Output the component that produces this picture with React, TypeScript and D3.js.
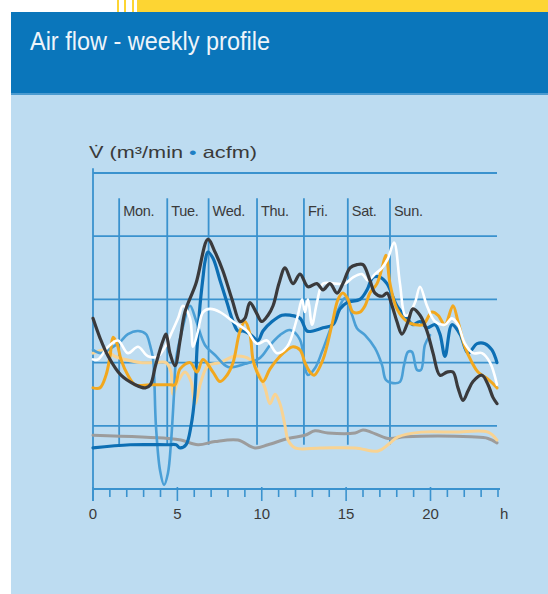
import React from "react";
import * as d3 from "d3";

// ---- data (hours, relative air flow 0-100) ----
const HOUR_TICKS = [0, 5, 10, 15, 20];
const ALL_HOURS = d3.range(0, 25);
const GRID_VALUES = [20, 40, 60, 80, 100];
const DAYS = ["Mon.", "Tue.", "Wed.", "Thu.", "Fri.", "Sat.", "Sun."];
const DAY_HOURS = [1.55, 4.4, 6.85, 9.72, 12.5, 15.1, 17.6];

const darkGray: [number, number][] = [
  [0, 54], [0.4, 48], [0.9, 42], [1.66, 36], [2.5, 33], [3.1, 32], [3.4, 33], [3.7, 39], [4.15, 47], [4.33, 49],
  [4.56, 43], [4.86, 39], [5.16, 47], [5.45, 56], [6.1, 65], [6.81, 79], [7.23, 75], [7.7, 69], [8.24, 60], [8.71, 53],
  [9.0, 54], [9.3, 59], [9.66, 56], [10.0, 53], [10.37, 55], [10.67, 58], [11.02, 65], [11.38, 70], [11.85, 65], [12.27, 68],
  [12.74, 64], [13.27, 65], [13.63, 63], [14.04, 65], [14.46, 62], [14.81, 65], [15.23, 70], [15.64, 71], [16.0, 71], [16.41, 66],
  [16.71, 62], [17.13, 61], [17.42, 62], [17.72, 58], [18.01, 53], [18.31, 49], [18.67, 53], [18.96, 57], [19.38, 55], [19.79, 50],
  [20.15, 43], [20.56, 36], [20.98, 37], [21.33, 37], [21.63, 32], [21.93, 28], [22.22, 31], [22.52, 34], [23.05, 36], [23.41, 33],
  [23.7, 29], [23.94, 27],
];

const darkBlue: [number, number][] = [
  [0, 13], [2.2, 14], [4.44, 14], [4.92, 14], [5.16, 13], [5.51, 14], [5.81, 20], [6.04, 30], [6.16, 44], [6.34, 58],
  [6.52, 67], [6.64, 72], [6.81, 75], [7.11, 73], [7.53, 66], [7.94, 59], [8.3, 53], [8.59, 50], [8.89, 50], [9.3, 49],
  [9.78, 47], [10.07, 50], [10.61, 53], [11.2, 55], [11.67, 55], [12.27, 54], [12.68, 50], [13.04, 50], [13.63, 51], [14.22, 52],
  [14.64, 57], [15.05, 59], [15.82, 60], [16.24, 63], [16.59, 67], [17.01, 67], [17.42, 65], [18.01, 58], [18.61, 54], [18.96, 52],
  [19.38, 53], [19.79, 51], [20.27, 52], [20.56, 49], [20.86, 42], [21.27, 52], [21.75, 49], [22.22, 43], [22.76, 46], [23.23, 46],
  [23.64, 44], [23.94, 40],
];

const mediumBlue: [number, number][] = [
  [0, 44], [0.47, 43], [1.19, 45], [1.6, 46.5], [2.07, 49], [2.67, 50], [3.14, 49], [3.38, 45.5], [3.56, 41], [3.73, 20],
  [3.97, 6], [4.21, 1.3], [4.44, 5], [4.62, 14.6], [4.8, 30], [4.92, 41], [5.27, 50], [5.75, 58], [6.1, 53.5], [6.64, 45.5],
  [7.23, 42.4], [8.0, 38.6], [9.01, 39.6], [9.9, 41.5], [10.49, 45.5], [11.08, 48.7], [11.67, 50.3], [12.27, 47.2], [12.56, 38.3], [12.74, 36.1],
  [13.16, 38.3], [13.57, 43.4], [14.16, 51.9], [14.52, 56.6], [14.93, 60.4], [15.35, 55.1], [15.64, 50.9], [16.12, 48.7], [16.71, 44.6], [17.13, 39.2],
  [17.36, 34.5], [17.78, 33.5], [18.19, 33.9], [18.43, 39.2], [18.67, 43.4], [18.9, 43.4], [19.2, 37.7], [19.44, 37.7], [19.67, 45.6], [19.97, 48.7],
];

const white: [number, number][] = [
  [0, 41], [0.3, 41], [0.89, 45], [1.48, 47], [2.07, 43], [2.67, 45], [3.26, 42], [3.85, 42], [4.27, 45], [4.62, 49],
  [5.04, 54], [5.33, 58], [5.75, 54], [5.93, 45], [6.22, 50], [6.52, 56], [6.93, 57], [7.53, 56], [8.3, 53], [9.13, 50],
  [9.72, 46], [10.31, 47], [10.9, 43], [11.5, 45], [12.09, 54], [12.39, 60], [12.56, 56], [12.74, 60], [12.98, 52], [13.27, 59],
  [13.63, 65], [14.34, 65], [14.93, 65], [15.41, 67], [15.94, 68], [16.3, 66], [16.71, 68], [17.13, 70], [17.48, 73], [17.84, 78],
  [18.19, 65], [18.49, 55], [18.67, 55], [19.08, 59], [19.38, 64], [19.79, 58], [20.27, 53], [20.86, 52], [21.27, 54], [21.63, 52],
  [22.04, 46], [22.52, 43], [23.05, 43], [23.53, 40], [23.94, 33],
];

const orange: [number, number][] = [
  [0, 32], [0.41, 32], [0.77, 36], [1.01, 42], [1.19, 48], [1.42, 46], [1.66, 41], [2.07, 36], [2.49, 33], [3.38, 33],
  [4.56, 33], [4.86, 33], [5.16, 38], [5.75, 40], [6.16, 37], [6.52, 41], [7.11, 37], [7.53, 34], [7.94, 36], [8.3, 40],
  [8.71, 50], [9.01, 53], [9.3, 49], [9.48, 41], [9.72, 37], [10.07, 34], [10.49, 38], [11.08, 42], [11.5, 44], [11.85, 45],
  [12.27, 44], [12.56, 40], [12.86, 37], [13.1, 36], [13.63, 41], [14.16, 52], [14.52, 60], [14.81, 62], [15.11, 60], [15.41, 56],
  [15.82, 56], [16.12, 58], [16.41, 62], [16.83, 65], [17.13, 70], [17.36, 74], [17.6, 65], [18.01, 57], [18.61, 53], [19.08, 52],
  [19.56, 52], [20.09, 56], [20.44, 55], [20.86, 52], [21.33, 58], [21.63, 53], [22.04, 45], [22.46, 40], [22.81, 37], [23.35, 35],
  [23.94, 32],
];

const paleOrange: [number, number][] = [
  [0, 43], [0.71, 44], [1.3, 42], [1.9, 41], [2.79, 40], [3.67, 40], [4.33, 40], [4.62, 37], [4.74, 30], [5.04, 34],
  [5.45, 37], [5.81, 34], [6.04, 27], [6.4, 34], [6.81, 39], [7.53, 40], [8.41, 42], [9.3, 41], [9.78, 37], [10.19, 32],
  [10.49, 27], [10.79, 30], [11.08, 27], [11.38, 20], [11.56, 15.5], [11.97, 13], [13.51, 13], [15.53, 13], [16.89, 12], [17.48, 14],
  [18.07, 16.5], [19.44, 18], [21.45, 18], [23.41, 18], [23.94, 15.5],
];

const gray: [number, number][] = [
  [0, 17], [4.44, 16], [5.21, 15.5], [6.22, 14], [7.23, 15], [8.59, 15.5], [9.6, 13], [10.37, 14], [11.56, 16], [12.56, 17],
  [13.16, 18.4], [13.93, 17.7], [15.53, 17.7], [16.0, 18.7], [16.47, 18], [17.48, 16], [18.49, 16.5], [20.44, 16.8], [22.4, 16.5], [23.41, 16],
  [23.94, 14.6],
];

const SERIES = [
  { data: gray, color: "#9c9c9c", w: 3 },
  { data: paleOrange, color: "#f8d393", w: 3 },
  { data: mediumBlue, color: "#4a9fd6", w: 2.6 },
  { data: darkBlue, color: "#0d6fb4", w: 3.2 },
  { data: orange, color: "#f2a81f", w: 3 },
  { data: white, color: "#ffffff", w: 2.6 },
  { data: darkGray, color: "#3a3a3c", w: 3.2 },
];

export default function App() {
  const W = 548, H = 594;
  const x = d3.scaleLinear().domain([0, 24]).range([93, 498]);
  const y = d3.scaleLinear().domain([0, 100]).range([489, 173]);
  const line = d3
    .line<[number, number]>()
    .x((d) => x(d[0]))
    .y((d) => y(d[1]))
    .curve(d3.curveCatmullRom.alpha(0.5));
  const grid = "#3a92ce";
  const txt = "#3a3a3a";
  const font = "'Liberation Sans', Arial, Helvetica, sans-serif";

  return (
    <svg width={W} height={H} style={{ position: "absolute", left: 0, top: 0 }}>
      <rect x={0} y={0} width={W} height={H} fill="#ffffff" />
      {/* top decoration */}
      <rect x={137} y={0} width={411} height={12} fill="#fdd533" />
      <rect x={117} y={0} width={2} height={12} fill="#fdd533" />
      <rect x={124} y={0} width={2} height={12} fill="#fdd533" />
      <rect x={132} y={0} width={2} height={12} fill="#fdd533" />
      {/* header */}
      <rect x={11} y={12} width={W - 11} height={83} fill="#0a76bb" />
      <rect x={11} y={93} width={W - 11} height={2} fill="#4c9bd0" />
      <text x={30} y={50} fill="#eef4fa" fontSize={25} fontFamily={font} textLength={240} lengthAdjust="spacingAndGlyphs">
        Air flow - weekly profile
      </text>
      {/* panel */}
      <rect x={11} y={95} width={W - 11} height={H - 95} fill="#bddcf1" />

      {/* y label */}
      <text x={89} y={158} fill={txt} fontSize={16.5} fontFamily={font} textLength={168} lengthAdjust="spacingAndGlyphs">
        V̇ (m³/min <tspan fill="#1f7fc4">•</tspan> acfm)
      </text>

      {/* grid */}
      {GRID_VALUES.map((v) => (
        <line key={v} x1={x(0)} x2={x(24) - 1} y1={y(v)} y2={y(v)} stroke={grid} strokeWidth={1.8} />
      ))}
      {DAY_HOURS.map((h, i) => (
        <g key={DAYS[i]}>
          <line x1={x(h)} x2={x(h)} y1={y(92)} y2={y(14)} stroke={grid} strokeWidth={1.8} />
          <text x={x(h) + 4} y={216} fill={txt} fontSize={14.5} fontFamily={font} letterSpacing={-0.3}>
            {DAYS[i]}
          </text>
        </g>
      ))}
      {/* axes */}
      <line x1={x(0)} x2={x(0)} y1={y(101.5)} y2={y(0) + 12} stroke={grid} strokeWidth={1.8} />
      <line x1={x(0)} x2={x(24) + 2} y1={y(0)} y2={y(0)} stroke={grid} strokeWidth={1.8} />
      {ALL_HOURS.map((h) => {
        const major = HOUR_TICKS.includes(h);
        return (
          <line key={h} x1={x(h)} x2={x(h)} y1={y(0) - (major ? 2 : 0)} y2={y(0) + (major ? 12 : 8)} stroke={grid} strokeWidth={1.6} />
        );
      })}
      {HOUR_TICKS.map((h) => (
        <text key={h} x={x(h)} y={519} textAnchor="middle" fill={txt} fontSize={15} fontFamily={font}>
          {h}
        </text>
      ))}
      <text x={500} y={519} fill={txt} fontSize={15} fontFamily={font}>h</text>

      {/* series */}
      {SERIES.map((s, i) => (
        <path key={i} d={line(s.data) || ""} fill="none" stroke={s.color} strokeWidth={s.w} strokeLinejoin="round" strokeLinecap="round" />
      ))}
    </svg>
  );
}
